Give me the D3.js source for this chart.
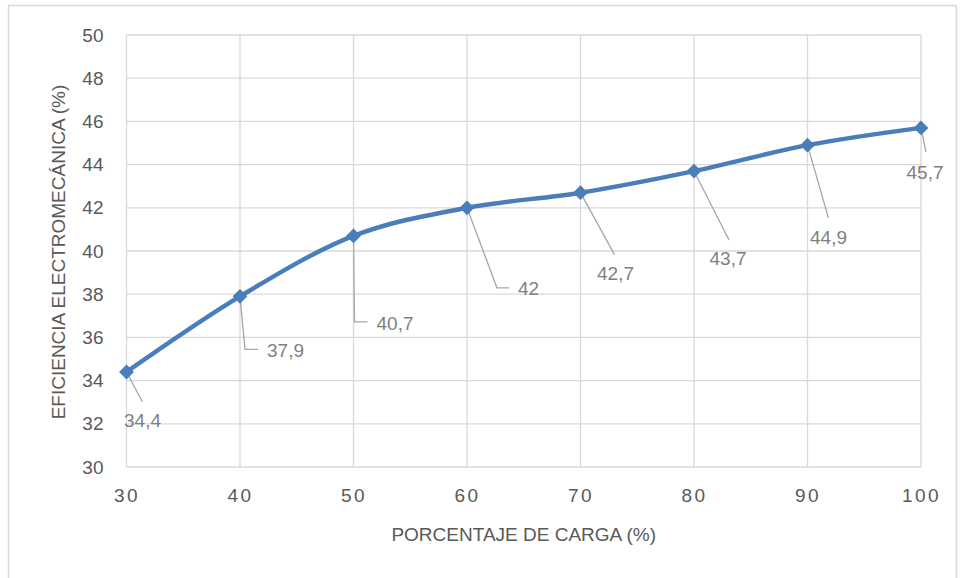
<!DOCTYPE html>
<html>
<head>
<meta charset="utf-8">
<script src="https://cdn.jsdelivr.net/npm/d3@7"></script>
<style>
  body { margin: 0; background: #fff; }
  svg text { font-family: "Liberation Sans", Arial, sans-serif; }
</style>
</head>
<body>
<svg id="chart"></svg>
<script>
const carga = [30, 40, 50, 60, 70, 80, 90, 100];
const eficiencia = [34.4, 37.9, 40.7, 42, 42.7, 43.7, 44.9, 45.7];
const yTicks = [30, 32, 34, 36, 38, 40, 42, 44, 46, 48, 50];
const xTicks = [30, 40, 50, 60, 70, 80, 90, 100];

// where each data label was dragged to (pixels from its point): line end, text position, kind
const labelPos = [
  {ex: 16, ey: 30, tx: 16, ty: 48, kind: "below"},
  {ex: 5, ey: 53, tx: 27, ty: 54, kind: "elbow"},
  {ex: 1, ey: 86, tx: 23, ty: 87, kind: "elbow"},
  {ex: 30, ey: 80, tx: 51, ty: 81, kind: "elbow"},
  {ex: 34, ey: 62, tx: 35, ty: 81, kind: "below"},
  {ex: 35, ey: 69, tx: 34, ty: 87, kind: "below"},
  {ex: 21, ey: 73, tx: 21, ty: 92, kind: "below"},
  {ex: 5, ey: 24, tx: 4, ty: 44, kind: "below"}
];

const fullWidth = 961;
const fullHeight = 578;
const margin = {top: 35, right: 40, bottom: 111, left: 126.5};
const width = fullWidth - margin.left - margin.right;
const height = fullHeight - margin.top - margin.bottom;

const svg = d3.select('#chart')
  .attr('width', fullWidth)
  .attr('height', fullHeight);

// outer chart frame
svg.append('rect')
  .attr('x', 8.5).attr('y', 5.5)
  .attr('width', 948).attr('height', 600)
  .attr('fill', 'none')
  .attr('stroke', '#d9d9d9')
  .attr('stroke-width', 1.5);

const g = svg.append('g')
  .attr('transform', 'translate(' + margin.left + ',' + margin.top + ')');

const x = d3.scaleLinear().domain([30, 100]).range([0, width]);
const y = d3.scaleLinear().domain([30, 50]).range([height, 0]);

// gridlines
g.append('g')
  .selectAll('line.hgrid')
  .data(yTicks)
  .enter().append('line')
    .attr('x1', 0).attr('x2', width)
    .attr('y1', d => y(d)).attr('y2', d => y(d))
    .attr('stroke', '#d9d9d9').attr('stroke-width', 1.3);

g.append('g')
  .selectAll('line.vgrid')
  .data(xTicks)
  .enter().append('line')
    .attr('x1', d => x(d)).attr('x2', d => x(d))
    .attr('y1', 0).attr('y2', height)
    .attr('stroke', '#d9d9d9').attr('stroke-width', 1.3);

// axes (labels only, Excel style)
const yAxis = g.append('g')
  .call(d3.axisLeft(y).tickValues(yTicks).tickSize(0).tickPadding(23));
yAxis.select('.domain').remove();
yAxis.selectAll('text')
  .attr('fill', '#595959')
  .style('font-size', '19px');

const xAxis = g.append('g')
  .attr('transform', 'translate(0,' + height + ')')
  .call(d3.axisBottom(x).tickValues(xTicks).tickSize(0).tickPadding(22));
xAxis.select('.domain').remove();
xAxis.selectAll('text')
  .attr('fill', '#595959')
  .style('font-size', '19px')
  .style('letter-spacing', '2.5px');

// axis titles
svg.append('text')
  .attr('x', margin.left + width / 2)
  .attr('y', 541)
  .attr('text-anchor', 'middle')
  .attr('fill', '#595959')
  .style('font-size', '19px')
  .text('PORCENTAJE DE CARGA (%)');

svg.append('text')
  .attr('transform', 'translate(65,252) rotate(-90)')
  .attr('text-anchor', 'middle')
  .attr('fill', '#595959')
  .style('font-size', '19px')
  .text('EFICIENCIA ELECTROMECÁNICA (%)');

const pts = carga.map((c, i) => ({c: c, v: eficiencia[i], p: labelPos[i]}));

// leader lines
g.append('g')
  .selectAll('path')
  .data(pts)
  .enter().append('path')
    .attr('d', d => {
      const px = x(d.c), py = y(d.v);
      let s = 'M' + px + ',' + py + 'L' + (px + d.p.ex) + ',' + (py + d.p.ey);
      if (d.p.kind === 'elbow') s += 'H' + (px + d.p.tx - 9);
      return s;
    })
    .attr('fill', 'none')
    .attr('stroke', '#a6a6a6')
    .attr('stroke-width', 1.3);

// the line
const line = d3.line()
  .x(d => x(d.c))
  .y(d => y(d.v))
  .curve(d3.curveCatmullRom.alpha(0));

g.append('path')
  .datum(pts)
  .attr('d', line)
  .attr('fill', 'none')
  .attr('stroke', '#4a7ebb')
  .attr('stroke-width', 4.5);

// diamond markers
g.append('g')
  .selectAll('path')
  .data(pts)
  .enter().append('path')
    .attr('d', d3.symbol().type(d3.symbolSquare).size(110))
    .attr('transform', d => 'translate(' + x(d.c) + ',' + y(d.v) + ') rotate(45)')
    .attr('fill', '#4a7ebb');

// data labels
g.append('g')
  .selectAll('text')
  .data(pts)
  .enter().append('text')
    .attr('x', d => x(d.c) + d.p.tx)
    .attr('y', d => y(d.v) + d.p.ty)
    .attr('dy', '0.35em')
    .attr('text-anchor', d => d.p.kind === 'elbow' ? 'start' : 'middle')
    .attr('fill', '#7f7f7f')
    .style('font-size', '19px')
    .text(d => String(d.v).replace('.', ','));
</script>
</body>
</html>
